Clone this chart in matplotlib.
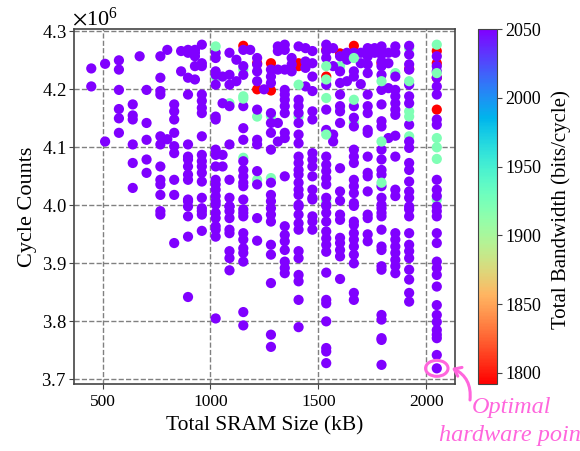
import numpy as np
import matplotlib
matplotlib.use('Agg')
import matplotlib.pyplot as plt
from matplotlib.patches import Ellipse

plt.rcParams['font.family'] = ['Liberation Serif', 'DejaVu Serif']
plt.rcParams['mathtext.fontset'] = 'stix'

# Cycle counts (x 1e6) of the purple points, one list per SRAM size
c_448 = [4.236, 4.205]
c_512 = [4.244, 4.110]
c_576 = [4.250, 4.234, 4.199, 4.166, 4.150, 4.125]
c_640 = [4.174, 4.155, 4.148, 4.105, 4.073, 4.030]
c_672 = [4.257]
c_704 = [4.199, 4.142, 4.113, 4.079, 4.056]
c_768 = [4.257, 4.220, 4.197, 4.191, 4.119, 4.105, 4.067, 4.044, 4.036, 4.018, 3.990, 3.984]
c_800 = [4.268, 4.114]
c_832 = [4.174, 4.162, 4.148, 4.125, 4.102, 4.090, 4.044, 4.018, 3.935]
c_864 = [4.266, 4.231]
c_896 = [4.268, 4.263, 4.220, 4.191, 4.105, 4.084, 4.079, 4.067, 4.053, 4.044, 4.007, 4.010, 3.998, 3.981, 3.946, 3.842]
c_928 = [4.268, 4.263, 4.257, 4.217, 4.240]
c_960 = [4.277, 4.240, 4.245, 4.191, 4.180, 4.168, 4.159, 4.119, 4.087, 4.076, 4.067, 4.056, 4.041, 4.013, 3.995, 3.990, 3.984, 3.956]
c_1024 = [4.263, 4.254, 4.231, 4.225, 4.208, 4.153, 4.148, 4.096, 4.087, 4.067, 4.044, 4.036, 4.027, 4.016, 4.007, 4.001, 3.987, 3.978, 3.964, 3.958, 3.946, 3.805]
c_1056 = [4.222, 4.176, 4.087, 4.067]
c_1088 = [4.263, 4.225, 4.208, 4.171, 4.105, 4.044, 4.013, 3.998, 3.998, 3.990, 3.978, 3.958, 3.952, 3.921, 3.909, 3.888]
c_1120 = [4.251, 4.214]
c_1152 = [4.268, 4.240, 4.225, 4.171, 4.133, 4.113, 4.076, 4.061, 4.050, 4.039, 4.033, 4.010, 3.993, 3.987, 3.981, 3.952, 3.941, 3.926, 3.918, 3.903, 3.816, 3.793]
c_1184 = [4.268]
c_1216 = [4.254, 4.243, 4.231, 4.214, 4.165, 4.113, 4.105, 4.059, 4.036, 3.978, 3.939]
c_1248 = [4.200]
c_1280 = [4.234, 4.222, 4.211, 4.159, 4.142, 4.125, 4.096, 4.039, 4.018, 4.007, 3.995, 3.984, 3.972, 3.932, 3.915, 3.866, 3.777, 3.756]
c_1312 = [4.274, 4.266, 4.234, 4.142, 4.110]
c_1344 = [4.277, 4.268, 4.234, 4.199, 4.191, 4.182, 4.171, 4.159, 4.125, 4.116, 4.050, 3.964, 3.949, 3.938, 3.923, 3.903, 3.892, 3.883]
c_1376 = [4.254, 4.243, 4.231]
c_1408 = [4.274, 4.182, 4.171, 4.159, 4.142, 4.122, 4.107, 4.084, 4.073, 4.061, 4.053, 4.039, 4.027, 4.018, 4.001, 3.998, 3.984, 3.969, 3.958, 3.921, 3.909, 3.880, 3.869, 3.837, 3.790]
c_1440 = [4.271, 4.248, 4.237, 4.205]
c_1472 = [4.266, 4.245, 4.222, 4.197, 4.162, 4.148, 4.090, 4.079, 4.067, 4.050, 4.027, 4.013, 4.010, 3.981, 3.972, 3.958]
c_1536 = [4.277, 4.266, 4.254, 4.208, 4.165, 4.130, 4.084, 4.070, 4.059, 4.047, 4.036, 4.013, 4.001, 3.999, 3.987, 3.972, 3.955, 3.943, 3.932, 3.920, 3.884, 3.837, 3.831, 3.800, 3.754, 3.748, 3.728]
c_1568 = [4.271, 4.240, 4.122, 4.110]
c_1600 = [4.257, 4.231, 4.211, 4.191, 4.171, 4.162, 4.142, 4.064, 4.024, 4.008, 3.984, 3.975, 3.944, 3.935, 3.923, 3.912, 3.873]
c_1632 = [4.263, 4.251, 4.214]
c_1664 = [4.263, 4.231, 4.222, 4.171, 4.151, 4.136, 4.096, 4.084, 4.073, 4.044, 4.033, 4.021, 4.004, 3.999, 3.972, 3.966, 3.952, 3.941, 3.929, 3.915, 3.900, 3.849, 3.837]
c_1696 = [4.263, 4.245, 4.209]
c_1728 = [4.271, 4.257, 4.243, 4.228, 4.191, 4.171, 4.159, 4.130, 4.125, 4.084, 4.056, 4.050, 4.024, 3.984, 3.978, 3.950, 3.938]
c_1760 = [4.263, 4.271]
c_1792 = [4.274, 4.260, 4.248, 4.240, 4.225, 4.199, 4.174, 4.145, 4.136, 4.096, 4.079, 4.061, 4.053, 4.033, 4.013, 4.001, 3.995, 3.987, 3.981, 3.958, 3.929, 3.923, 3.895, 3.889, 3.811, 3.803, 3.771, 3.768, 3.725]
c_1824 = [4.263, 4.245, 4.202, 4.116]
c_1856 = [4.274, 4.263, 4.222, 4.199, 4.188, 4.176, 4.165, 4.156, 4.120, 4.084, 4.027, 4.016, 3.952, 3.941, 3.929, 3.918, 3.906, 3.895, 3.883]
c_1920 = [4.275, 4.260, 4.243, 4.234, 4.208, 4.188, 4.176, 4.139, 4.110, 4.099, 4.073, 4.061, 4.041, 4.024, 4.013, 3.998, 3.993, 3.981, 3.952, 3.932, 3.921, 3.909, 3.889, 3.872, 3.849, 3.834]
c_2048 = [4.257, 4.240, 4.231, 4.220, 4.205, 4.191, 4.148, 4.139, 4.044, 4.027, 4.016, 3.998, 3.990, 3.981, 3.952, 3.935, 3.903, 3.892, 3.880, 3.860, 3.828, 3.811, 3.799, 3.785, 3.777, 3.771, 3.742, 3.719]

sram_sizes = [448, 512, 576, 640, 672, 704, 768, 800, 832, 864, 896, 928, 960, 1024, 1056, 1088, 1120,
              1152, 1184, 1216, 1248, 1280, 1312, 1344, 1376, 1408, 1440, 1472, 1536, 1568, 1600, 1632,
              1664, 1696, 1728, 1760, 1792, 1824, 1856, 1920, 2048]
purple_cycles = [c_448, c_512, c_576, c_640, c_672, c_704, c_768, c_800, c_832, c_864, c_896, c_928, c_960,
                 c_1024, c_1056, c_1088, c_1120, c_1152, c_1184, c_1216, c_1248, c_1280, c_1312, c_1344,
                 c_1376, c_1408, c_1440, c_1472, c_1536, c_1568, c_1600, c_1632, c_1664, c_1696, c_1728,
                 c_1760, c_1792, c_1824, c_1856, c_1920, c_2048]

# the other bandwidth levels
red_x = [1152, 1216, 1216, 1280, 1280, 1408, 1408, 1536, 1536, 1600, 1664, 1792, 1920, 2048, 2048, 2048, 2048]
red_y = [4.275, 4.245, 4.200, 4.245, 4.198, 4.245, 4.240, 4.268, 4.222, 4.262, 4.275, 4.245, 4.235, 4.266, 4.245, 4.220, 4.165]
green_low_x = [1024, 1088, 1152, 1152, 1216, 1216, 1280, 1280, 1408, 1536, 1536, 1600, 1600, 1664, 1856, 1920, 1920, 1920, 2048]
green_low_y = [4.222, 4.176, 4.234, 4.082, 4.153, 4.044, 4.154, 4.047, 4.153, 4.185, 4.007, 4.168, 4.240, 4.142, 4.228, 4.271, 4.162, 4.119, 4.010]
green_top_x = [1024, 1152, 1152, 1408, 1536, 1536, 1536, 1664, 1664, 1792, 1792, 1792, 1920, 1920, 2048, 2048, 2048, 2048, 2048]
green_top_y = [4.274, 4.188, 4.184, 4.208, 4.240, 4.217, 4.122, 4.254, 4.182, 4.214, 4.110, 4.039, 4.214, 4.153, 4.277, 4.228, 4.116, 4.100, 4.080]

bw_purple = 2050
bw_green = 1921
bw_red = 1792

purple_x = np.concatenate([[s] * len(c) for s, c in zip(sram_sizes, purple_cycles)])
purple_y = np.concatenate(purple_cycles)

fig = plt.figure(figsize=(5.8, 4.51), dpi=100)
ax = fig.add_axes([74 / 580, 1 - 384 / 451, 380.5 / 580, 355 / 451])

ax.set_axisbelow(True)
ax.grid(True, linestyle='--', color='#808080', linewidth=1)

kw = dict(s=54, cmap='rainbow_r', vmin=bw_red, vmax=bw_purple, linewidths=0, zorder=3)
ax.scatter(red_x, np.array(red_y) * 1e6, c=[bw_red] * len(red_x), **kw)
ax.scatter(green_low_x, np.array(green_low_y) * 1e6, c=[bw_green] * len(green_low_x), **kw)
sc = ax.scatter(purple_x, purple_y * 1e6, c=[bw_purple] * len(purple_x), **kw)
ax.scatter(green_top_x, np.array(green_top_y) * 1e6, c=[bw_green] * len(green_top_x), **kw)

ax.set_xlim(368, 2130)
ax.set_ylim(3.692e6, 4.304e6)
ax.set_xticks([500, 1000, 1500, 2000])
ax.set_yticks([3.7e6, 3.8e6, 3.9e6, 4.0e6, 4.1e6, 4.2e6, 4.3e6])
ax.ticklabel_format(axis='y', style='sci', scilimits=(6, 6), useMathText=True)
ax.yaxis.get_offset_text().set_fontsize(16)
ax.yaxis.get_offset_text().set_x(-0.005)
ax.tick_params(axis='x', labelsize=12.5, color='#444444', length=3.5, pad=4)
ax.tick_params(axis='y', labelsize=13.5, color='#444444', length=3.5, pad=2)
for s in ax.spines.values():
    s.set_color('#444444')
    s.set_linewidth(1.2)

ax.set_xlabel('Total SRAM Size (kB)', fontsize=15.5, labelpad=4)
ax.set_ylabel('Cycle Counts', fontsize=16, labelpad=3)

# colorbar
cax = fig.add_axes([478 / 580, 1 - 384 / 451, 18.5 / 580, 355 / 451])
cb = fig.colorbar(sc, cax=cax)
cb.set_ticks([1800, 1850, 1900, 1950, 2000, 2050])
cb.ax.tick_params(labelsize=13, length=3.5, color='#444444', pad=3)
cb.outline.set_edgecolor('#444444')
cb.set_label('Total Bandwidth (bits/cycle)', fontsize=15, labelpad=7, y=0.49)

# highlight
pink = '#ff66dd'
ax.add_patch(Ellipse((2048, 3.719e6), 104, 0.0275e6, fill=False, edgecolor=pink, linewidth=2.2, zorder=4))
ax.annotate('', xy=(452, 451 - 368), xytext=(470, 451 - 400), xycoords='figure pixels', textcoords='figure pixels',
            annotation_clip=False,
            arrowprops=dict(arrowstyle='->,head_width=0.35,head_length=0.45', color=pink, lw=2.2,
                            connectionstyle='arc3,rad=0.35', shrinkA=0, shrinkB=0))
fig.text(512 / 580, 1 - 407 / 451, 'Optimal', color=pink, style='italic', fontsize=17.5, ha='center', va='center')
fig.text(439 / 580, 1 - 435 / 451, 'hardware point', color=pink, style='italic', fontsize=17.5, ha='left', va='center')

fig.savefig('out.png', dpi=100)
